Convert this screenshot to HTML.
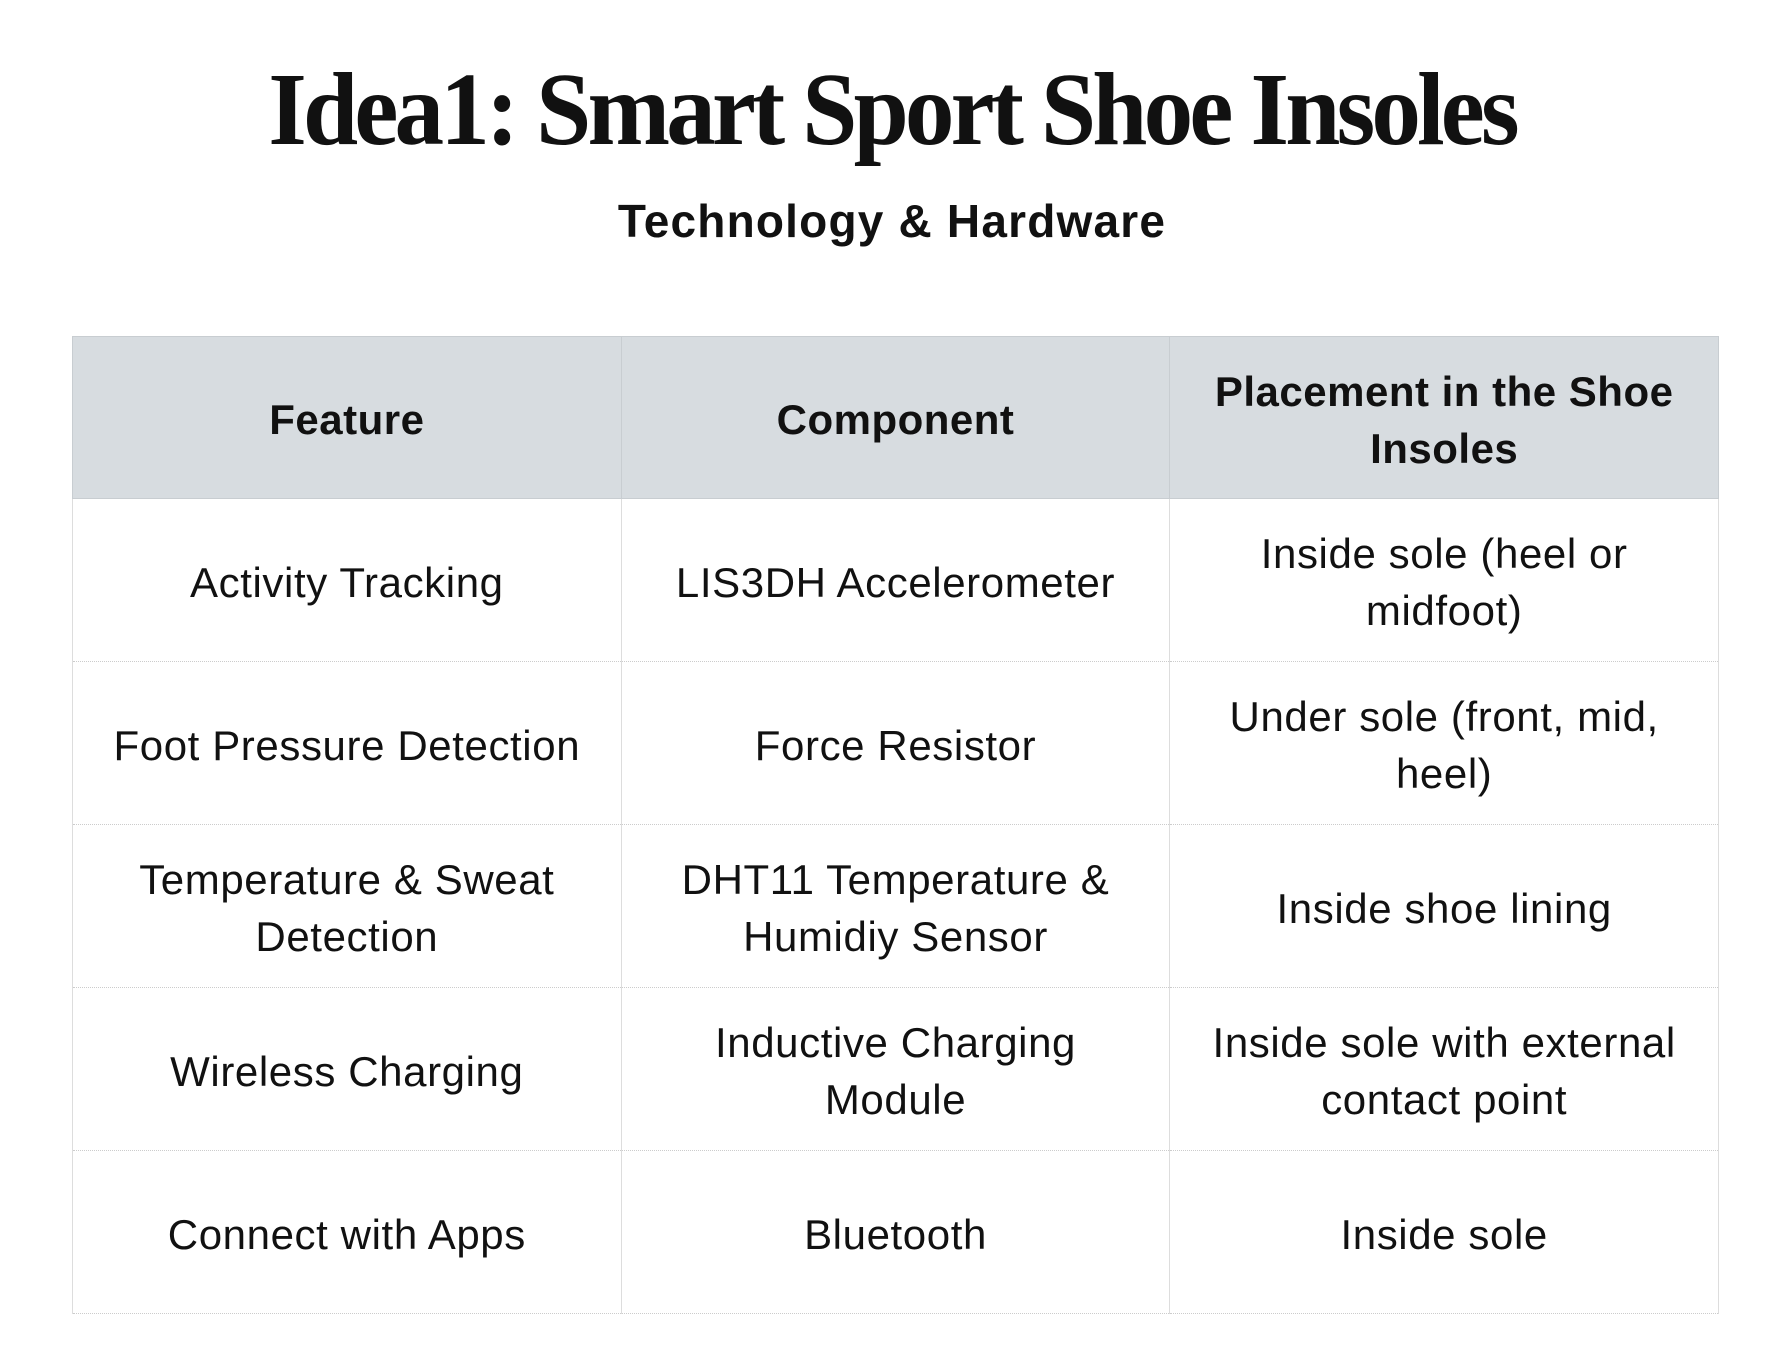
<!DOCTYPE html>
<html><head><meta charset="utf-8"><style>
body{margin:0;width:1784px;height:1366px;background:#fff;font-family:"Liberation Sans",sans-serif;color:#111;position:relative;overflow:hidden}
h1{position:absolute;top:50px;left:0;width:1784px;text-align:center;margin:0;font-family:"Liberation Serif",serif;font-weight:bold;font-size:104px;letter-spacing:-4px;line-height:120px;transform:scaleX(0.953)}
h2{position:absolute;top:193px;left:0;width:1784px;text-align:center;margin:0;font-size:46px;font-weight:bold;line-height:56px;letter-spacing:1.2px}
table{position:absolute;left:72px;top:336px;width:1647px;border-collapse:collapse}
td,th{border:1px solid #ddd;text-align:center;vertical-align:middle;font-size:42px;line-height:57px;padding:4px 10px 0;letter-spacing:0.6px}
th{background:#d7dce0;height:157px;font-weight:bold;border-color:#c8cdd1;letter-spacing:0.5px}
td{height:158px;border-top:1px dotted #ccc;border-bottom:1px dotted #ccc}
</style></head><body>
<h1>Idea1: Smart Sport Shoe Insoles</h1>
<h2>Technology &amp; Hardware</h2>
<table>
<colgroup><col style="width:549px"><col style="width:549px"><col style="width:549px"></colgroup>
<tr><th>Feature</th><th>Component</th><th>Placement in the Shoe<br>Insoles</th></tr>
<tr><td>Activity Tracking</td><td>LIS3DH Accelerometer</td><td>Inside sole (heel or<br>midfoot)</td></tr>
<tr><td>Foot Pressure Detection</td><td>Force Resistor</td><td>Under sole (front, mid,<br>heel)</td></tr>
<tr><td>Temperature &amp; Sweat<br>Detection</td><td>DHT11 Temperature &amp;<br>Humidiy Sensor</td><td>Inside shoe lining</td></tr>
<tr><td>Wireless Charging</td><td>Inductive Charging<br>Module</td><td>Inside sole with external<br>contact point</td></tr>
<tr><td>Connect with Apps</td><td>Bluetooth</td><td>Inside sole</td></tr>
</table>
</body></html>
